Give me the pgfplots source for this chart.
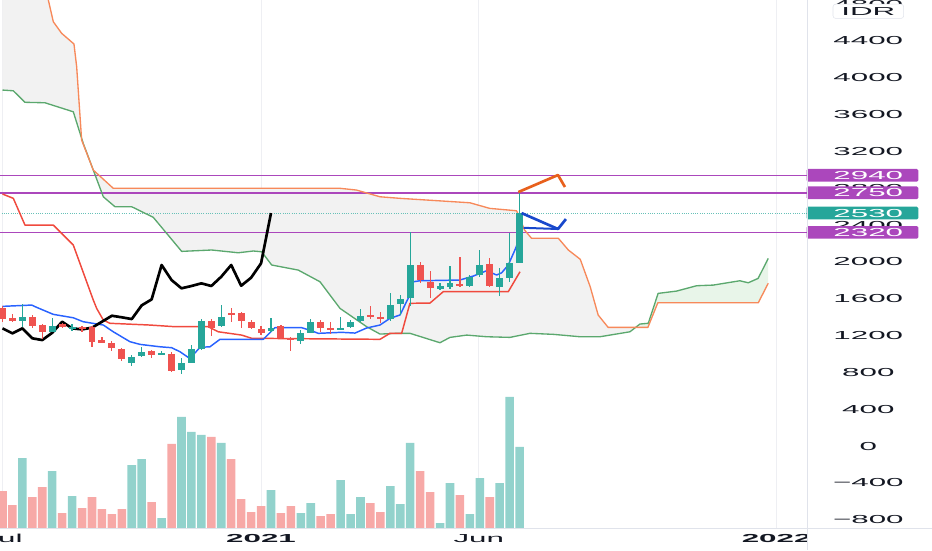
\documentclass[border=0pt]{standalone}
\usepackage{fontspec}
\setmainfont{Liberation Sans}
\newfontfamily\tvfont{Liberation Sans}[FakeStretch=2.7]
\usepackage{pgfplots}
\usepackage{pgfplotstable}
\usepgfplotslibrary{fillbetween}
\pgfplotsset{compat=1.18}

\definecolor{tvgreen}{HTML}{26A69A}
\definecolor{tvred}{HTML}{EF5350}
\definecolor{volgreen}{HTML}{92D2CC}
\definecolor{volred}{HTML}{F7A9A7}
\definecolor{tenkan}{HTML}{2962FF}
\definecolor{kijun}{HTML}{F04A3E}
\definecolor{spanA}{HTML}{5BA86E}
\definecolor{spanB}{HTML}{F7895A}
\definecolor{cloudgray}{HTML}{F2F2F2}
\definecolor{cloudgreen}{HTML}{E8F5E9}
\definecolor{lvlpurple}{HTML}{AB47BC}
\definecolor{gridc}{HTML}{EEEFF3}
\definecolor{axisc}{HTML}{E0E3EB}
\definecolor{txt}{HTML}{131722}
\definecolor{drawblue}{HTML}{1848CC}
\definecolor{draworange}{HTML}{E8601C}

% weekly candles: index, open, high, low, close, volume (relative)
\pgfplotstableread{
i o h l c v
0 1495 1520 1350 1380 37
1 1387 1430 1350 1357 23
2 1357 1542 1296 1404 70
3 1404 1423 1285 1306 31
4 1314 1320 1159 1235 41
5 1241 1387 1235 1303 57
6 1322 1333 1278 1289 15
7 1278 1325 1252 1296 32
8 1296 1306 1235 1278 20
9 1296 1303 1078 1133 31
10 1151 1187 1115 1115 19
11 1122 1140 1032 1061 14
12 1053 1068 926 945 19
13 898 988 872 970 63
14 981 1078 970 1024 69
15 1032 1043 952 988 26
16 996 1032 988 1007 10
17 1002 1018 804 815 84
18 825 952 782 905 111
19 905 1097 898 1050 96
20 1050 1376 1043 1361 93
21 1361 1376 1195 1278 91
22 1303 1531 1296 1398 85
23 1441 1495 1350 1423 69
24 1441 1458 1278 1361 29
25 1350 1368 1267 1278 16
26 1271 1303 1205 1224 22
27 1252 1387 1241 1278 38
28 1303 1314 1159 1170 15
29 1170 1187 1032 1151 22
30 1144 1260 1108 1230 15
31 1230 1376 1224 1350 25
32 1343 1368 1241 1278 12
33 1278 1350 1213 1267 14
34 1267 1404 1260 1285 48
35 1289 1368 1278 1350 14
36 1358 1485 1347 1415 31
37 1423 1520 1376 1398 25
38 1404 1458 1339 1379 16
39 1379 1658 1361 1528 42
40 1542 1640 1423 1593 24
41 1604 2321 1520 1966 85
42 1966 2001 1767 1803 57
43 1784 1904 1611 1713 36
44 1702 1767 1694 1738 5
45 1730 1955 1702 1767 45
46 1756 2056 1723 1738 33
47 1738 1857 1723 1839 14
48 1857 2129 1839 1966 50
49 1973 2038 1730 1741 31
50 1723 1930 1632 1828 45
51 1821 2310 1784 1984 131
52 1991 2750 1990 2530 81
}\candles

\pgfplotstableread{
x y
0 1517
2.94 1531
3.44 1506
5.11 1430
7.12 1393
8.12 1350
10.14 1314
11.14 1241
12.82 1133
13.83 1104
15.84 1078
17.01 1068
17.85 1024
18.85 950
19.86 1072
20.86 1078
21.87 1159
26.22 1159
27.4 1285
30.09 1285
31.09 1252
31.75 1224
34.1 1235
35.45 1227
36.62 1282
37.96 1314
38.96 1387
39.97 1423
40.8 1604
41.31 1784
41.98 1795
46.0 1803
47.34 1846
48.69 1904
49.69 1857
50.2 1882
50.86 1966
51.53 2129
52.0 2259
}\tenkantab

\pgfplotstableread{
x y
0 2737
1.09 2690
2.26 2400
5.11 2400
7.12 2183
9.13 1586
9.47 1495
10.14 1368
10.81 1333
13.15 1322
14.83 1314
17.35 1296
20.69 1296
21.7 1241
24.05 1205
25.06 1170
37.96 1159
38.96 1224
40.14 1224
40.97 1550
42.99 1553
44.32 1676
50.86 1676
52.04 1893
}\kijuntab

\pgfplotstableread{
x y
0 3866
1.09 3858
2.26 3733
4.27 3728
7.12 3630
8.12 3287
10.14 2707
11.31 2599
12.99 2599
15.16 2484
18.02 2114
21.04 2129
23.71 2099
25.22 2118
26.06 2110
27.07 1966
29.74 1911
31.93 1784
33.94 1495
36.62 1296
37.96 1216
39.64 1224
40.98 1224
43.99 1122
45.0 1180
46.68 1205
48.69 1187
51.03 1180
53.04 1224
55.4 1213
58.07 1187
60.08 1187
61.09 1205
63.1 1241
64.1 1325
64.94 1333
65.93 1658
67.79 1683
69.8 1741
71.47 1748
74.15 1795
74.99 1773
75.99 1821
77.0 2038
}\spanAtab

\pgfplotstableread{
x y
0 5600
4.0 4974
4.61 4844
5.11 4608
5.95 4482
7.19 4366
7.46 4119
7.96 3323
9.13 2997
11.14 2799
33.94 2799
35.6 2780
37.96 2707
39.97 2690
47.0 2642
49.0 2581
51.7 2555
52.5 2346
53.2 2256
55.9 2256
56.9 2129
58.1 2028
59.1 1730
59.9 1423
60.9 1289
64.9 1289
65.9 1556
76.0 1556
77.0 1767
}\spanBtab

\pgfplotstableread{
x y
0 1278
1 1224
2 1278
3 1170
4 1151
5 1230
6 1350
7 1278
8 1267
9 1285
10 1350
11 1415
12 1398
13 1379
14 1528
15 1593
16 1966
17 1803
18 1713
19 1738
20 1767
21 1738
22 1839
23 1966
24 1741
25 1828
26 1984
27 2530
}\chikoutab

\newcommand{\tvf}{\tvfont\fontsize{8.7pt}{10pt}\selectfont}

\pgfplotsset{
  candle/.style 2 args={draw=none, mark=none, forget plot,
    error bars/.cd, y dir=both, y explicit, error mark=none,
    error bar style={draw=#1, line width=#2, solid}},
  upbar/.style={restrict expr to domain={\thisrow{c}-\thisrow{o}}{0:100000}},
  downbar/.style={restrict expr to domain={\thisrow{c}-\thisrow{o}}{-100000:-0.001}},
}

\begin{document}
\begin{tikzpicture}
\begin{axis}[
  at={(0,0)}, anchor=south west,
  scale only axis, width=605.25pt, height=396pt,
  xmin=-0.25, xmax=80.9, ymin=-890, ymax=4844,
  clip mode=individual,
  axis line style={draw=none},
  xtick={0,26,47.9,77.85},
  xticklabels={Jul,\textbf{2021},Jun,\textbf{2022}},
  xtick style={draw=none},
  xmajorgrids, major grid style={gridc, line width=0.75pt},
  ytick={-800,-400,0,400,800,1200,1600,2000,2400,2800,3200,3600,4000,4400,4800},
  yticklabels={−800,−400,0,400,800,1200,1600,2000,2400,2800,3200,3600,4000,4400,4800},
  ytick style={draw=none},
  yticklabel pos=right,
  ticklabel style={font=\tvf, text=txt},
  yticklabel style={anchor=center, xshift=46pt},
  xticklabel style={anchor=center, yshift=-8.1pt},
]
% cloud
\addplot[draw=none, name path=A, forget plot] table[x=x,y=y] {\spanAtab};
\addplot[draw=none, name path=B, forget plot] table[x=x,y=y] {\spanBtab};
\addplot[cloudgray, forget plot] fill between[of=A and B, soft clip={domain=0:64.3}];
\addplot[cloudgreen, forget plot] fill between[of=A and B, soft clip={domain=64.3:78}];
% levels
\addplot[lvlpurple, line width=1.1pt, forget plot] coordinates {(-1,2940) (82,2940)};
\addplot[lvlpurple, line width=1.1pt, forget plot] coordinates {(-1,2750) (82,2750)};
\addplot[lvlpurple, line width=1.1pt, forget plot] coordinates {(-1,2320) (82,2320)};
\addplot[tvgreen!70, densely dotted, line width=0.7pt, forget plot] coordinates {(-1,2530) (82,2530)};
% spans
\addplot[spanA, line width=1pt, line join=round, mark=none] table[x=x,y=y] {\spanAtab};
\addplot[spanB, line width=1pt, line join=round, mark=none] table[x=x,y=y] {\spanBtab};
% kijun, tenkan
\addplot[kijun, line width=1.1pt, line join=round, mark=none] table[x=x,y=y] {\kijuntab};
\addplot[tenkan, line width=1.1pt, line join=round, mark=none] table[x=x,y=y] {\tenkantab};
% chikou
\addplot[black, line width=2pt, line join=round, mark=none] table[x=x,y=y] {\chikoutab};
% candles: wicks
\addplot[upbar, candle={tvgreen}{0.9pt}]
  table[x=i, y expr={(\thisrow{h}+\thisrow{l})/2}, y error expr={(\thisrow{h}-\thisrow{l})/2}] {\candles};
\addplot[downbar, candle={tvred}{0.9pt}]
  table[x=i, y expr={(\thisrow{h}+\thisrow{l})/2}, y error expr={(\thisrow{h}-\thisrow{l})/2}] {\candles};
% candles: bodies
\addplot[upbar, candle={tvgreen}{5.2pt}]
  table[x=i, y expr={(\thisrow{o}+\thisrow{c})/2}, y error expr={abs(\thisrow{c}-\thisrow{o})/2}] {\candles};
\addplot[downbar, candle={tvred}{5.2pt}]
  table[x=i, y expr={(\thisrow{o}+\thisrow{c})/2}, y error expr={abs(\thisrow{c}-\thisrow{o})/2}] {\candles};
% drawings
\addplot[draworange, line width=2pt, line join=round, mark=none] coordinates {(51.87,2758) (55.86,2943) (56.56,2813)};
\addplot[drawblue, line width=2pt, line join=round, mark=none] coordinates {(52.2,2530) (55.86,2357) (56.66,2465)};
\addplot[drawblue, line width=1.5pt, mark=none] coordinates {(52.4,2370) (55.86,2357)};
% price labels on the scale
\node[fill=white, draw=axisc, rounded corners=2pt, minimum width=53pt, minimum height=10.7pt, inner sep=0pt, font=\tvf, text=txt] at (axis cs:80.9,4830) [xshift=46pt, yshift=-7.5pt] {IDR};
\foreach \p/\col in {2940/lvlpurple,2750/lvlpurple,2530/tvgreen,2320/lvlpurple}{
  \edef\temp{\noexpand\node[fill=\col, rounded corners=1pt, minimum width=83.7pt, minimum height=9.5pt, inner sep=0pt] at (axis cs:80.9,\p) [xshift=41.6pt] {};
  \noexpand\node[font=\noexpand\tvf, text=white, inner sep=0pt] at (axis cs:80.9,\p) [xshift=46pt] {\p};}
  \temp
}
\end{axis}
\begin{axis}[
  at={(0,0)}, anchor=south west,
  scale only axis, width=605.25pt, height=396pt,
  xmin=-0.25, xmax=80.9, ymin=0, ymax=528,
  hide axis,
]
\addplot[ybar, bar width=0.86, bar shift=0pt, fill=volgreen, draw=none, upbar]
  table[x=i, y=v] {\candles};
\addplot[ybar, bar width=0.86, bar shift=0pt, fill=volred, draw=none, downbar]
  table[x=i, y=v] {\candles};
\end{axis}
\fill[white] (605.25pt,-16.5pt) rectangle (699pt,-0.4pt);
\draw[axisc, line width=0.75pt] (0,0) -- (699pt,0);
\draw[axisc, line width=0.75pt] (605.25pt,-16.5pt) -- (605.25pt,396pt);
\pgfresetboundingbox
\path[use as bounding box] (0,-16.5pt) rectangle (699pt,396pt);
\end{tikzpicture}
\end{document}
